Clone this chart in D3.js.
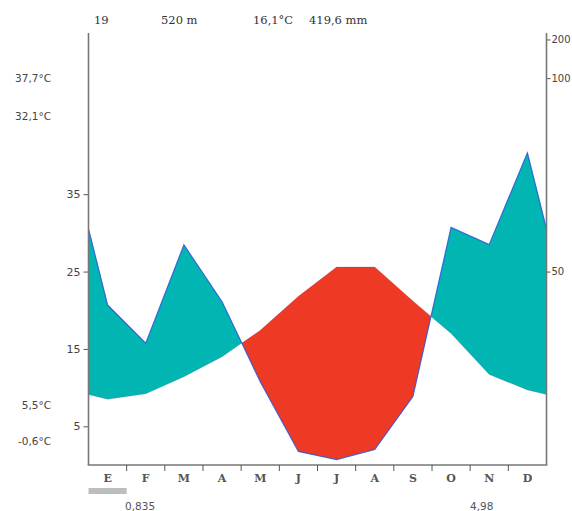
<!DOCTYPE html>
<html>
<head>
<meta charset="utf-8">
<script src="https://cdn.jsdelivr.net/npm/d3@7"></script>
<style>
  html, body { margin: 0; padding: 0; background: #fff; overflow: hidden; }
  svg { display: block; }
  .sans { font-family: "DejaVu Sans", Verdana, sans-serif; }
  .serif { font-family: "DejaVu Serif", Georgia, serif; }
</style>
</head>
<body>
<div id="chart"></div>
<script>
// ---- data ----
const months = ["E","F","M","A","M","J","J","A","S","O","N","D"];
const temperature = [8.5, 9.2, 11.4, 14.0, 17.4, 21.8, 25.6, 25.6, 21.2, 17.0, 11.7, 9.7];
const precipitation = [41.4, 31.5, 56.9, 42.2, 21.5, 3.5, 1.4, 4.0, 17.7, 61.4, 57.0, 80.7];
const tempTicks = [5, 15, 25, 35];
const precTicks = [50, 100, 200];
const headerTexts = ["19", "520 m", "16,1°C", "419,6 mm"];
const tempLabels = ["37,7°C", "32,1°C", "5,5°C", "-0,6°C"];
const bottomValues = ["0,835", "4,98"];

(function () {
const W = 572, H = 511;
const plotLeft = 88.5, plotRight = 546.5, plotBottom = 465;

const svg = d3.select("#chart").append("svg").attr("width", W).attr("height", H);

const x = d3.scaleBand().domain(d3.range(12)).range([plotLeft, plotRight]).paddingInner(0).paddingOuter(0);
const bw = x.bandwidth();
const yT = d3.scaleLinear().domain([0, 35]).range([plotBottom, 194.2]);
// precipitation scale: 2 mm = 1 °C up to 100 mm, compressed 1/10 above
const yP = d3.scaleLinear().domain([0, 100, 200]).range([yT(0), yT(50), yT(55)]);
const peq = p => yT.invert(yP(p)); // precip expressed in temp units

// build points incl. wrap-around edges
const tEdge = (temperature[11] + temperature[0]) / 2;
const pEdge = (precipitation[11] + precipitation[0]) / 2;
let pts = [{x: plotLeft, t: tEdge, p: peq(pEdge)}];
months.forEach((m, i) => pts.push({x: x(i) + bw / 2, t: temperature[i], p: peq(precipitation[i])}));
pts.push({x: plotRight, t: tEdge, p: peq(pEdge)});

// insert crossings
let full = [];
for (let i = 0; i < pts.length; i++) {
  full.push(pts[i]);
  if (i < pts.length - 1) {
    const a = pts[i], b = pts[i + 1];
    const da = a.p - a.t, db = b.p - b.t;
    if (da * db < 0) {
      const f = da / (da - db);
      const tt = a.t + f * (b.t - a.t);
      full.push({x: a.x + f * (b.x - a.x), t: tt, p: tt});
    }
  }
}

const wetArea = d3.area().x(d => d.x).y0(d => yT(d.t)).y1(d => yT(Math.max(d.p, d.t)));
const dryArea = d3.area().x(d => d.x).y0(d => yT(d.p)).y1(d => yT(Math.max(d.t, d.p)));

svg.append("path").datum(full).attr("d", wetArea).attr("fill", "#00b5b2");
svg.append("path").datum(full).attr("d", dryArea).attr("fill", "#ee3a24");

// precipitation line
svg.append("path").datum(full)
  .attr("d", d3.line().x(d => d.x).y(d => yT(d.p)))
  .attr("fill", "none").attr("stroke", "#2a56d6").attr("stroke-width", 1.2).attr("stroke-opacity", 0.85);
// faint temperature line
svg.append("path").datum(full)
  .attr("d", d3.line().x(d => d.x).y(d => yT(d.t)))
  .attr("fill", "none").attr("stroke", "#6a4a8a").attr("stroke-width", 0.6).attr("stroke-opacity", 0.35);

const axisColor = "#777";
// left axis
const gL = svg.append("g").attr("transform", `translate(${plotLeft},0)`)
  .call(d3.axisLeft(yT).tickValues(tempTicks).tickSize(5).tickPadding(3).tickFormat(d3.format("d")));
gL.select(".domain").remove();
gL.selectAll("line").attr("stroke", "#555");
gL.selectAll("text").attr("class", "sans").attr("font-size", 11).attr("fill", "#444");
svg.append("line").attr("x1", plotLeft).attr("x2", plotLeft).attr("y1", 33).attr("y2", plotBottom)
  .attr("stroke", axisColor).attr("stroke-width", 1.6);

// right axis
const gR = svg.append("g").attr("transform", `translate(${plotRight},0)`)
  .call(d3.axisRight(yP).tickValues(precTicks).tickSize(4).tickPadding(1).tickFormat(d3.format("d")));
gR.select(".domain").remove();
gR.selectAll("line").attr("stroke", "#555");
gR.selectAll("text").attr("class", "sans").attr("font-size", 10).attr("fill", "#444");
svg.append("line").attr("x1", plotRight).attr("x2", plotRight).attr("y1", 33).attr("y2", plotBottom)
  .attr("stroke", axisColor).attr("stroke-width", 1.6);

// bottom axis
svg.append("line").attr("x1", plotLeft - 0.8).attr("x2", plotRight + 0.8).attr("y1", plotBottom).attr("y2", plotBottom)
  .attr("stroke", axisColor).attr("stroke-width", 1.6);
svg.append("g").selectAll("line").data(d3.range(1, 12)).join("line")
  .attr("x1", i => x(i)).attr("x2", i => x(i))
  .attr("y1", plotBottom).attr("y2", plotBottom + 6)
  .attr("stroke", "#555").attr("stroke-width", 1);
svg.append("g").selectAll("text").data(months).join("text")
  .attr("class", "serif")
  .attr("x", (d, i) => x(i) + bw / 2).attr("y", 482)
  .attr("text-anchor", "middle").attr("font-size", 11).attr("font-weight", "bold")
  .attr("fill", "#555").text(d => d);

// header
const headerX = [94, 161, 253, 309];
svg.append("g").selectAll("text").data(headerTexts).join("text")
  .attr("class", "serif").attr("x", (d, i) => headerX[i]).attr("y", 24)
  .attr("font-size", 11.5).attr("fill", "#333").text(d => d);

// left extreme labels
const labelY = [82, 120, 409, 445];
svg.append("g").selectAll("text").data(tempLabels).join("text")
  .attr("class", "sans").attr("x", 51).attr("y", (d, i) => labelY[i])
  .attr("text-anchor", "end").attr("font-size", 10.5).attr("fill", "#444").text(d => d);

// bottom gray bar and values
svg.append("rect").attr("x", x(0)).attr("y", 488).attr("width", bw).attr("height", 6).attr("fill", "#bdbdbd");
const bottomX = [125, 470];
svg.append("g").selectAll("text").data(bottomValues).join("text")
  .attr("class", "sans").attr("x", (d, i) => bottomX[i]).attr("y", 510)
  .attr("font-size", 10.5).attr("fill", "#555").text(d => d);
})();
</script>
</body>
</html>
